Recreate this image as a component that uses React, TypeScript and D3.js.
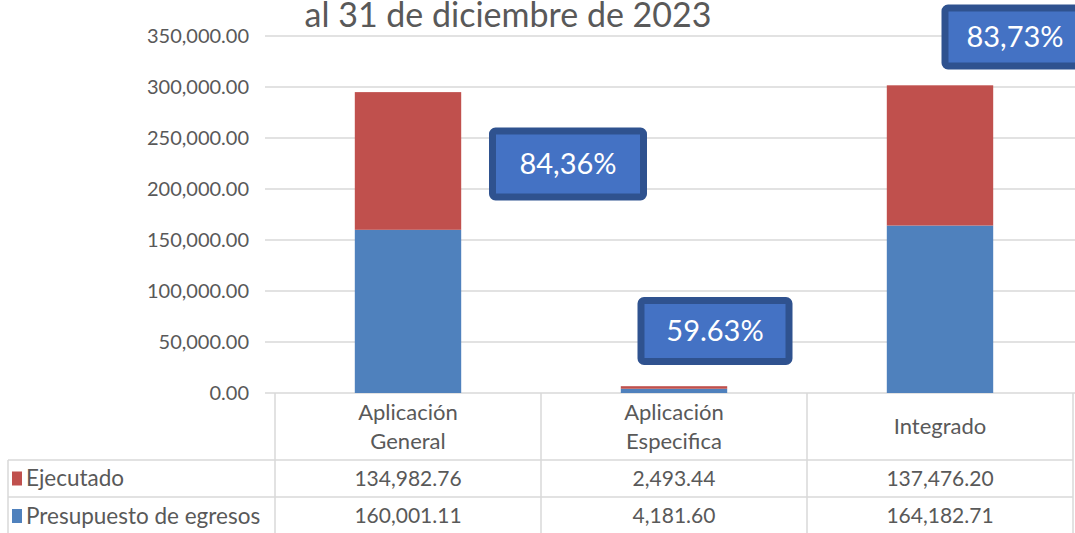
import React from "react";
import * as d3 from "d3";

const categories = ["Aplicación General", "Aplicación Especifica", "Integrado"];
const categoryLines = [["Aplicación", "General"], ["Aplicación", "Especifica"], ["Integrado"]];
const presupuesto = [160001.11, 4181.6, 164182.71];
const ejecutado = [134982.76, 2493.44, 137476.2];
const yTicks = [0, 50000, 100000, 150000, 200000, 250000, 300000, 350000];
const callouts = ["84,36%", "59.63%", "83,73%"];
const titleLine = "al 31 de diciembre de 2023";

const W = 1075, H = 533;
const FONT = "Lato, 'Open Sans', sans-serif";
const TXT = "#595959";
const GRID = "#d9d9d9";
const BLUE = "#4f81bd";
const RED = "#c0504d";

export default function App() {
  const x0 = 275, x1 = 1073;
  const x = d3.scaleBand<string>().domain(categories).range([x0, x1]).paddingInner(0).paddingOuter(0);
  const y = d3.scaleLinear().domain([0, 350000]).range([393, 36]);
  const bw = x.bandwidth() * 0.4;
  const fmt = d3.format(",.2f");

  const row1 = 460, row2 = 497, bottom = 535;

  const boxes = [
    { cx: x(categories[0])! + x.bandwidth() + 27, cy: 164, w: 151, h: 66 },
    { cx: x(categories[1])! + x.bandwidth() / 2 + 41, cy: 331, w: 148, h: 61 },
    { cx: x(categories[2])! + x.bandwidth() / 2 + 75, cy: 37, w: 140, h: 58 },
  ];

  return (
    <svg width={W} height={H} style={{ position: "absolute", left: 0, top: 0, background: "#fff" }} fontFamily={FONT}>
      <text x={508} y={27} textAnchor="middle" fontSize={34} fill={TXT}>{titleLine}</text>

      {yTicks.map((t) => (
        <line key={t} x1={265} x2={W} y1={y(t)} y2={y(t)} stroke={GRID} strokeWidth={1.5} />
      ))}
      {yTicks.map((t) => (
        <text key={"l" + t} x={249} y={y(t)} dy="0.35em" textAnchor="end" fontSize={20} fill={TXT}>{fmt(t)}</text>
      ))}

      {categories.map((c, i) => {
        const bx = x(c)! + (x.bandwidth() - bw) / 2;
        const p = presupuesto[i], e = ejecutado[i];
        return (
          <g key={c}>
            <rect x={bx} y={y(p)} width={bw} height={y(0) - y(p)} fill={BLUE} />
            <rect x={bx} y={y(p + e)} width={bw} height={y(p) - y(p + e)} fill={RED} />
          </g>
        );
      })}

      <g stroke={GRID} strokeWidth={1.5}>
        {[x0, ...categories.map((c) => x(c)! + x.bandwidth())].map((vx, i) => (
          <line key={"v" + i} x1={vx} x2={vx} y1={393} y2={bottom} />
        ))}
        <line x1={8} x2={8} y1={row1} y2={bottom} />
        <line x1={8} x2={x1} y1={row1} y2={row1} />
        <line x1={8} x2={x1} y1={row2} y2={row2} />
      </g>
      {categories.map((c, i) => {
        const cx = x(c)! + x.bandwidth() / 2;
        const lines = categoryLines[i];
        const my = (393 + row1) / 2;
        return (
          <g key={"t" + c}>
            {lines.map((l, j) => (
              <text key={j} x={cx} y={my + (j - (lines.length - 1) / 2) * 29} dy="0.35em" textAnchor="middle" fontSize={22} fill={TXT}>{l}</text>
            ))}
            <text x={cx} y={(row1 + row2) / 2} dy="0.35em" textAnchor="middle" fontSize={21} fill={TXT}>{fmt(ejecutado[i])}</text>
            <text x={cx} y={(row2 + 533) / 2 + 1} dy="0.35em" textAnchor="middle" fontSize={21} fill={TXT}>{fmt(presupuesto[i])}</text>
          </g>
        );
      })}
      <rect x={12} y={(row1 + row2) / 2 - 7} width={10} height={14} fill={RED} />
      <text x={26} y={(row1 + row2) / 2} dy="0.35em" fontSize={22.5} fill={TXT}>Ejecutado</text>
      <rect x={12} y={(row2 + 533) / 2 - 6} width={10} height={14} fill={BLUE} />
      <text x={26} y={(row2 + 533) / 2 + 1} dy="0.35em" fontSize={22.5} fill={TXT}>Presupuesto de egresos</text>

      {boxes.map((b, i) => (
        <g key={"c" + i}>
          <rect x={b.cx - b.w / 2} y={b.cy - b.h / 2} width={b.w} height={b.h} rx={3} fill="#4472c4" stroke="#2f528f" strokeWidth={7} />
          <text x={b.cx} y={b.cy} dy="0.36em" textAnchor="middle" fontSize={29} fill="#fff">{callouts[i]}</text>
        </g>
      ))}
    </svg>
  );
}
